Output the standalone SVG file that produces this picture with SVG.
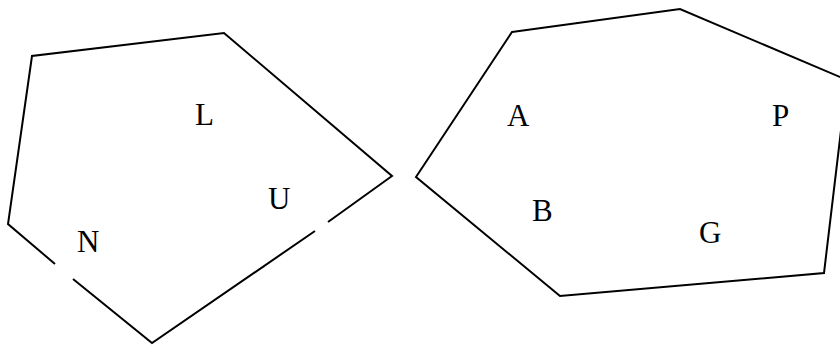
<svg xmlns="http://www.w3.org/2000/svg" width="840" height="347" viewBox="0 0 840 347">
<style>
.e{fill:none;stroke:#000;stroke-width:2;stroke-linejoin:miter}
.t{font-family:"Liberation Serif","Times New Roman",serif;font-size:31px;fill:#000}
</style>
<rect width="840" height="347" fill="#fff"/>
<g id="connectors">
<polyline class="e" points="55,264 8,224 32,56 224,33 392,176 328,222"/>
<polyline class="e" points="315,231 152,343 73,279"/>
<polygon class="e" points="512,32 680,9 847,80 824,273 560,296 416,177"/>
</g>
<g id="L"><text class="t" x="195" y="125">L</text></g>
<g id="U"><text class="t" x="268" y="209">U</text></g>
<g id="N"><text class="t" x="77" y="252">N</text></g>
<g id="A"><text class="t" x="507" y="126">A</text></g>
<g id="P"><text class="t" x="772" y="126">P</text></g>
<g id="B"><text class="t" x="532" y="221">B</text></g>
<g id="G"><text class="t" x="699" y="243">G</text></g>
</svg>
